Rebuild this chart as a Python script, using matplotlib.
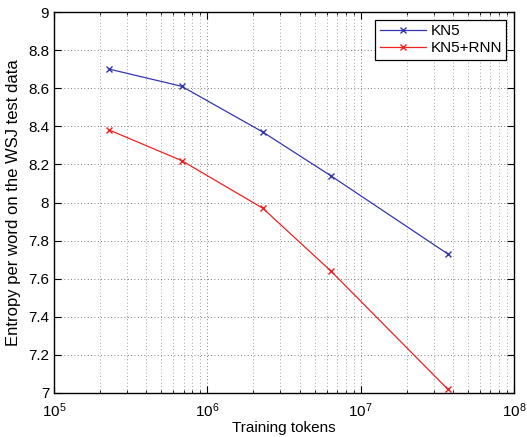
import matplotlib
matplotlib.use('Agg')
import matplotlib.pyplot as plt
from matplotlib.ticker import LogLocator, NullFormatter

plt.rcParams['font.family'] = ['Liberation Sans', 'DejaVu Sans']

# Training set sizes (tokens)
tokens = [2.3e5, 6.8e5, 2.3e6, 6.4e6, 3.7e7]
# Entropy per word on WSJ test data
kn5 = [8.70, 8.61, 8.37, 8.14, 7.73]
kn5_rnn = [8.38, 8.22, 7.97, 7.64, 7.02]

fig = plt.figure(figsize=(5.27, 4.37), dpi=100)
ax = fig.add_axes([0.1025, 0.1007, 0.8728, 0.8718])

ax.plot(tokens, kn5, '-x', color='#3535b0', lw=0.9, ms=5, mew=1.0, label='KN5')
ax.plot(tokens, kn5_rnn, '-x', color='#f02020', lw=0.9, ms=5, mew=1.0, label='KN5+RNN')

ax.set_xscale('log')
ax.set_xlim(1e5, 1e8)
ax.set_ylim(7, 9)
ax.set_yticks([7, 7.2, 7.4, 7.6, 7.8, 8, 8.2, 8.4, 8.6, 8.8, 9])
ax.set_yticklabels(['7', '7.2', '7.4', '7.6', '7.8', '8', '8.2', '8.4', '8.6', '8.8', '9'])
ax.xaxis.set_minor_locator(LogLocator(base=10, subs=range(2, 10)))
ax.xaxis.set_minor_formatter(NullFormatter())

ax.grid(True, which='major', linestyle=(0, (1, 3)), color='#555555', lw=0.6)
ax.grid(True, which='minor', axis='x', linestyle=(0, (1, 3)), color='#888888', lw=0.6)

ax.tick_params(which='both', direction='in', top=True, right=True, labelsize=11)
ax.tick_params(which='major', length=5)
ax.tick_params(which='minor', length=2.5)
ax.tick_params(axis='x', which='major', pad=6)
for s in ax.spines.values():
    s.set_linewidth(1.0)

ax.set_xlabel('Training tokens', fontsize=11, labelpad=1)
ax.set_ylabel('Entropy per word on the WSJ test data', fontsize=12, labelpad=5)

leg = ax.legend(loc='upper right', fontsize=11, fancybox=False, framealpha=1,
                edgecolor='black', borderaxespad=0.5, handlelength=3.0,
                borderpad=0.3, labelspacing=0.2, handletextpad=0.3)
leg.get_frame().set_linewidth(0.9)

fig.savefig('out.png', dpi=100)
